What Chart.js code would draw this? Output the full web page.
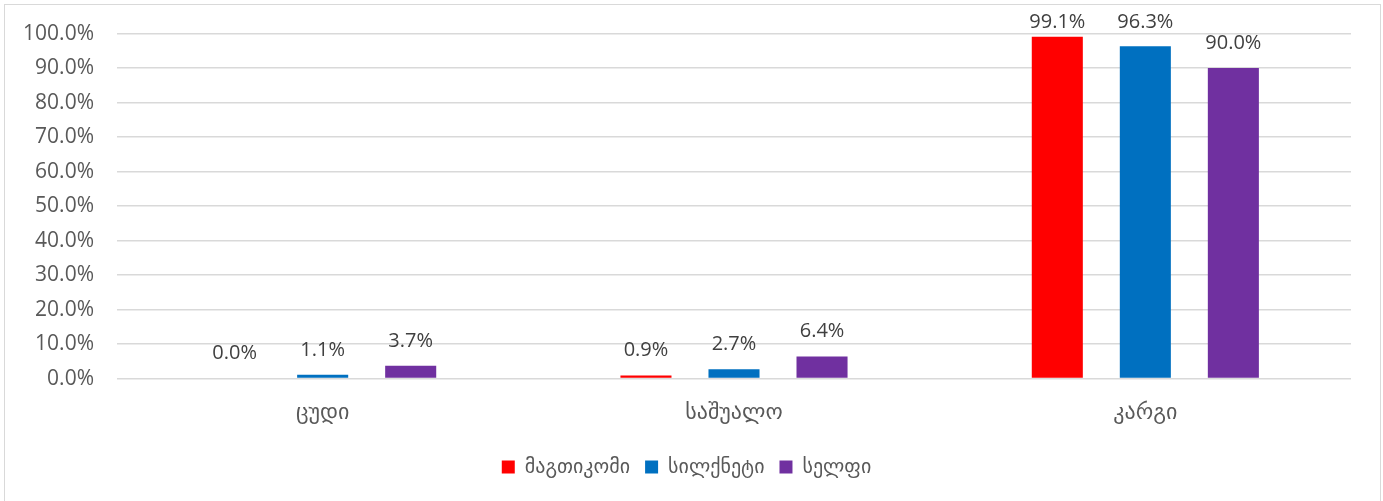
<!DOCTYPE html>
<html>
<head>
<meta charset="utf-8">
<script src="https://cdn.jsdelivr.net/npm/chart.js@4.4.1/dist/chart.umd.min.js"></script>
<style>
  html, body { margin: 0; padding: 0; background: #fff; }
  body { width: 1383px; height: 501px; overflow: hidden; position: relative; }
  #frame { position: absolute; left: 4px; top: 4px; width: 1375px; height: 520px; border: 1px solid #d9d9d9; }
  #wrap { position: absolute; left: 0; top: -2px; width: 1383px; height: 503px; }
</style>
</head>
<body>
<div id="frame"></div>
<div id="wrap"><canvas id="chart" width="1383" height="503"></canvas></div>
<script>
const categories = ['ცუდი', 'საშუალო', 'კარგი'];
const seriesNames = ['მაგთიკომი', 'სილქნეტი', 'სელფი'];
const magticomValues = [0.0, 0.9, 99.1];
const silknetValues = [1.1, 2.7, 96.3];
const selfyValues = [3.7, 6.4, 90.0];
const seriesColors = ['#ff0000', '#0070c0', '#7030a0'];

const FONT = "'Open Sans', 'DejaVu Sans', sans-serif";

// value labels above the bars, like Excel data labels
const barLabels = {
  id: 'barLabels',
  afterDatasetsDraw(chart) {
    const ctx = chart.ctx;
    ctx.save();
    ctx.font = '20px ' + FONT;
    ctx.fillStyle = '#404040';
    ctx.textAlign = 'center';
    ctx.textBaseline = 'middle';
    chart.data.datasets.forEach((ds, i) => {
      chart.getDatasetMeta(i).data.forEach((bar, j) => {
        const y = Math.max(bar.y - 25, 24);
        ctx.fillText(ds.data[j].toFixed(1) + '%', bar.x, y);
      });
    });
    ctx.restore();
  }
};

new Chart(document.getElementById('chart'), {
  type: 'bar',
  data: {
    labels: categories,
    datasets: [
      { label: seriesNames[0], data: magticomValues, backgroundColor: seriesColors[0] },
      { label: seriesNames[1], data: silknetValues, backgroundColor: seriesColors[1] },
      { label: seriesNames[2], data: selfyValues, backgroundColor: seriesColors[2] },
    ]
  },
  options: {
    responsive: false,
    animation: false,
    devicePixelRatio: 1,
    categoryPercentage: 0.642,
    barPercentage: 0.58,
    layout: { padding: { left: 22, right: 32, top: 15, bottom: 14 } },
    plugins: {
      legend: {
        position: 'bottom',
        labels: {
          boxWidth: 13,
          boxHeight: 13,
          padding: 15,
          color: '#595959',
          font: { family: FONT, size: 20 }
        }
      },
      tooltip: { enabled: false }
    },
    scales: {
      x: {
        afterFit: s => { s.height += 3; },
        grid: { display: false },
        border: { display: false },
        ticks: { color: '#595959', font: { family: FONT, size: 22 }, padding: 13 }
      },
      y: {
        min: 0,
        max: 100,
        afterFit: s => { s.width = 95; },
        grid: { color: '#d9d9d9', lineWidth: 1.5, drawTicks: false },
        border: { display: false },
        ticks: {
          stepSize: 10,
          padding: 23,
          color: '#595959',
          font: { family: FONT, size: 21 },
          callback: v => v.toFixed(1) + '%'
        }
      }
    }
  },
  plugins: [barLabels]
});
</script>
</body>
</html>
